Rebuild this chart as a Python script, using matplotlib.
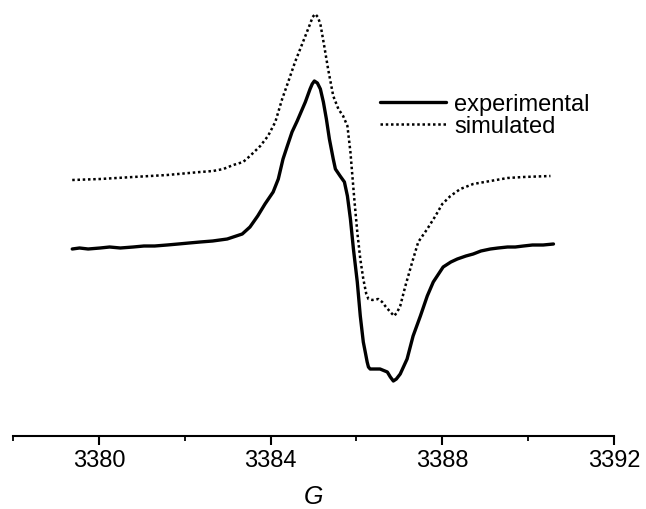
import matplotlib
matplotlib.use("Agg")
import matplotlib.pyplot as plt
from matplotlib.ticker import MultipleLocator

plt.rcParams['font.family'] = ['Liberation Sans', 'DejaVu Sans']

# Magnetic field (G) and intensity (arbitrary units)
exp_field = [3379.38, 3379.55, 3379.75, 3380.03, 3380.25, 3380.50, 3380.80, 3381.05,
             3381.30, 3381.59, 3381.85, 3382.10, 3382.36, 3382.65, 3382.99, 3383.20,
             3383.34, 3383.52, 3383.70, 3383.87, 3384.06, 3384.18, 3384.29, 3384.39,
             3384.50, 3384.62, 3384.69, 3384.81, 3384.92, 3384.97, 3385.02, 3385.09,
             3385.16, 3385.23, 3385.30, 3385.37, 3385.46, 3385.51, 3385.62, 3385.72,
             3385.79, 3385.86, 3385.93, 3386.02, 3386.09, 3386.16, 3386.21, 3386.25,
             3386.28, 3386.32, 3386.44, 3386.55, 3386.72, 3386.79, 3386.86, 3386.93,
             3387.02, 3387.18, 3387.32, 3387.49, 3387.65, 3387.79, 3388.02, 3388.20,
             3388.35, 3388.55, 3388.72, 3388.90, 3389.12, 3389.30, 3389.52, 3389.70,
             3389.89, 3390.10, 3390.35, 3390.59]
exp_signal = [187, 188, 187, 188, 189, 188, 189, 190,
              190, 191, 192, 193, 194, 195, 197, 200,
              202, 209, 220, 232, 244, 257, 277, 290,
              304, 315, 322, 334, 347, 352, 355, 353,
              347, 334, 317, 297, 277, 267, 260, 254,
              240, 217, 187, 154, 120, 94, 83, 74,
              69, 67, 67, 67, 64, 59, 55, 57,
              62, 77, 100, 120, 140, 154, 169, 174,
              177, 180, 182, 185, 187, 188, 189, 189,
              190, 191, 191, 192]

sim_field = [3379.38, 3380.03, 3380.80, 3381.59, 3382.36, 3382.66, 3382.90, 3383.13,
             3383.36, 3383.52, 3383.76, 3383.94, 3384.11, 3384.27, 3384.41, 3384.57,
             3384.69, 3384.81, 3384.92, 3384.98, 3385.04, 3385.10, 3385.16, 3385.25,
             3385.34, 3385.46, 3385.58, 3385.69, 3385.79, 3385.86, 3385.95, 3386.02,
             3386.09, 3386.16, 3386.23, 3386.28, 3386.37, 3386.51, 3386.60, 3386.67,
             3386.79, 3386.88, 3386.95, 3387.02, 3387.14, 3387.30, 3387.44, 3387.65,
             3387.84, 3388.00, 3388.19, 3388.42, 3388.72, 3389.12, 3389.52, 3389.89,
             3390.52]
sim_signal = [256, 257, 259, 261, 264, 265, 267, 271,
              274, 280, 290, 300, 314, 337, 354, 374,
              387, 400, 412, 419, 422, 419, 412, 390,
              367, 340, 327, 320, 310, 284, 237, 204,
              177, 157, 142, 137, 136, 137, 134, 130,
              124, 120, 124, 130, 150, 174, 194, 207,
              220, 232, 240, 247, 252, 255, 258, 259,
              260]

xticks = [3380, 3384, 3388, 3392]

fig = plt.figure(figsize=(6.46, 5.10), dpi=100)
ax = fig.add_axes([13/646, 1 - 437/510, (614 - 13)/646, 437/510])

ax.plot(exp_field, exp_signal, color='black', lw=2.4, solid_capstyle='round',
        solid_joinstyle='round', label='experimental')
ax.plot(sim_field, sim_signal, color='black', lw=1.8, linestyle=(0, (1, 1.1)),
        label='simulated')

ax.set_xlim(3378, 3392)
ax.set_ylim(0, 437)
ax.set_xticks(xticks)
ax.set_xticklabels([str(t) for t in xticks])
ax.xaxis.set_minor_locator(MultipleLocator(2))
ax.set_yticks([])
for s in ['top', 'right', 'left']:
    ax.spines[s].set_visible(False)
ax.spines['bottom'].set_linewidth(1.5)
ax.tick_params(axis='x', which='major', direction='out', length=6.5, width=1.5,
               labelsize=17, pad=3)
ax.tick_params(axis='x', which='minor', direction='out', length=3.8, width=1.3)
ax.set_xlabel('G', fontsize=18, style='italic', labelpad=9)

leg = ax.legend(loc='upper left', bbox_to_anchor=(380/646, 1 - 94/510),
                bbox_transform=fig.transFigure, frameon=False, fontsize=17,
                handlelength=2.8, handletextpad=0.35, labelspacing=0.0,
                borderpad=0, borderaxespad=0)

fig.savefig('out.png', dpi=100)
